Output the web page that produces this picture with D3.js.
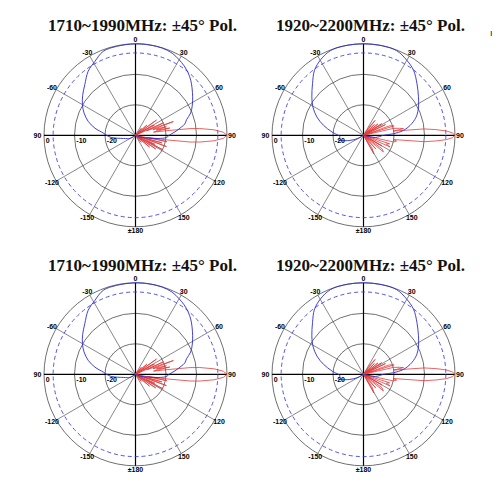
<!DOCTYPE html>
<html><head><meta charset="utf-8">
<script src="https://cdn.jsdelivr.net/npm/d3@7"></script>
<style>body{margin:0;background:#fff}</style>
</head><body>
<script>
const titles = ["1710~1990MHz: ±45° Pol.", "1920~2200MHz: ±45° Pol.", "1710~1990MHz: ±45° Pol.", "1920~2200MHz: ±45° Pol."];
const angleTicks = [0, 30, 60, 90, 120, 150, 180, -150, -120, -90, -60, -30];
const angleLabels = ["0", "30", "60", "90", "120", "150", "±180", "-150", "-120", "90", "-60", "-30"];
const ringValues = [0, -10, -20];
const ringLabels = ["0", "-10", "-20"];
const halfPowerLevel = -3;

// 1710~1990MHz horizontal pattern (blue), degrees / dB
const hAngA = [-180,-150,-120,-105,-95,-90,-86,-80,-73.5,-66.5,-60,-53,-45,-36.5,-29,-21,-12,0,9,17,24,30,35,40,45,50,56,62,68,73,77,80,85,90,94,98,102,110,130,150];
const hGainA = [-30,-30,-28,-26,-22,-20.5,-19.4,-16.5,-13.8,-11.6,-9.9,-8.3,-6.5,-3.9,-2.4,-0.5,-0.2,0,0,-0.1,-0.5,-1.4,-2.2,-3.2,-4.4,-5.8,-7.4,-8.9,-10.5,-12.5,-13.4,-14.8,-17,-19,-19.8,-22.5,-25.7,-28,-30,-30];
// 1710~1990MHz vertical pattern (red)
const vAngA = [0,30,40,44,48,51,54,57,60,62,64,66,68,70,72,74.5,76,78,80,81.5,83,84,86,88,90,92,94,96,97,98.5,100,101.5,104,106,108,110,112.5,115,116.5,118,121,124,127,130,134,140,146,180];
const vGainA = [-30,-30,-27,-30,-25,-30,-21.5,-30,-24,-23,-30,-20,-26,-16.8,-24,-19.5,-23,-18.5,-24,-20,-12,-8.8,-4.2,-1.2,0,-1.2,-4.2,-8.8,-12,-20,-26,-19.5,-30,-21,-27,-19.2,-30,-23,-26,-19.7,-30,-22,-30,-24,-30,-27,-30,-30];
// 1920~2200MHz horizontal pattern (blue)
const hAngB = [-180,-140,-120,-110,-100,-94,-84,-76,-68.6,-60.8,-53.4,-44.6,-37,-29.5,-21.4,-12.5,0,12.5,21.4,29.5,37.6,45.9,55,62.7,69.4,76.4,83,87,90,100,120,150];
const hGainB = [-30,-30,-28,-25,-21.5,-22.3,-19.6,-16.5,-13.6,-11,-8.9,-6.2,-3.3,-1.5,-0.2,0,0,0,-0.2,-1.5,-3.1,-5.6,-8.0,-9.7,-11.3,-13.7,-16.8,-20.2,-23.4,-26,-30,-30];
// 1920~2200MHz vertical pattern (red)
const vAngB = [0,30,35,38,41,45,48,52,55,57.5,60,64,67,70,73,75,77,79,80.5,82,84,85.5,87,88.5,90,91.5,93,94.5,96,98,100,102.6,105,108,111,113.7,116,120,123,126,130,133,138,141,146,151,154,160,180];
const vGainB = [-30,-30,-26,-23.8,-30,-25,-30,-24,-30,-22.9,-30,-22,-30,-21,-19.5,-30,-19.9,-18,-16.7,-20,-10,-6.2,-2.8,-0.8,0,-0.8,-2.8,-6.2,-10,-20,-19,-20,-30,-21,-22,-20.5,-30,-23,-30,-22.5,-21.5,-30,-24,-30,-25,-23,-30,-30,-30];

const W = 500, H = 500, R = 91.5;
const svg = d3.select("body").append("svg").attr("width", W).attr("height", H)
  .style("font-family", "Arial, 'Liberation Sans', sans-serif");

const rScale = d3.scaleLinear().domain([-30, 0]).range([0, R]).clamp(true);
const toRad = d => d * Math.PI / 180;
const zip = (a, g) => a.map((d, i) => ({ a: d, g: g[i] }));

const panels = [
  { title: titles[0], cx: 135.5, cy: 135.3, ty: 31, h: zip(hAngA, hGainA), v: zip(vAngA, vGainA) },
  { title: titles[1], cx: 363.5, cy: 135.3, ty: 31, h: zip(hAngB, hGainB), v: zip(vAngB, vGainB) },
  { title: titles[2], cx: 135.5, cy: 374.3, ty: 271, h: zip(hAngA, hGainA), v: zip(vAngA, vGainA) },
  { title: titles[3], cx: 363.5, cy: 374.3, ty: 271, h: zip(hAngB, hGainB), v: zip(vAngB, vGainB) }
];

const lineH = d3.lineRadial().angle(d => toRad(d.a)).radius(d => rScale(d.g)).curve(d3.curveCatmullRomClosed.alpha(0.5));
const lineV = d3.lineRadial().angle(d => toRad(d.a)).radius(d => rScale(d.g)).curve(d3.curveLinearClosed);

panels.forEach(p => {
  svg.append("text").attr("x", p.cx + 7).attr("y", p.ty)
    .attr("text-anchor", "middle")
    .style("font-family", "'Liberation Serif', 'Times New Roman', serif")
    .style("font-weight", "bold").style("font-size", "17px").attr("fill", "#111")
    .text(p.title);

  const g = svg.append("g").attr("transform", `translate(${p.cx},${p.cy})`);

  g.selectAll("circle.ring").data(ringValues).enter().append("circle")
    .attr("class", "ring").attr("r", d => rScale(d))
    .attr("fill", "none").attr("stroke", "#4a4a4a").attr("stroke-width", 0.8);

  g.selectAll("line.spoke").data(angleTicks).enter().append("line")
    .attr("class", "spoke")
    .attr("x1", 0).attr("y1", 0)
    .attr("x2", d => rScale(0) * Math.sin(toRad(d)))
    .attr("y2", d => -rScale(0) * Math.cos(toRad(d)))
    .attr("stroke", d => (d % 90 === 0) ? "#000" : "#555")
    .attr("stroke-width", d => (d % 90 === 0) ? 1.2 : 0.7);

  g.append("circle").attr("r", rScale(halfPowerLevel))
    .attr("fill", "none").attr("stroke", "#4040e8").attr("stroke-width", 0.9)
    .attr("stroke-dasharray", "4,3");

  g.append("path").datum(p.v).attr("d", lineV)
    .attr("fill", "none").attr("stroke", "#e43a3a").attr("stroke-width", 0.8);
  g.append("path").datum(p.h).attr("d", lineH)
    .attr("fill", "none").attr("stroke", "#2e2ec8").attr("stroke-width", 0.9);

  g.selectAll("text.ang").data(angleTicks).enter().append("text")
    .attr("class", "ang")
    .attr("x", d => (R + 5) * Math.sin(toRad(d)) + (d === -90 ? -1.5 : 0))
    .attr("y", d => -(R + 4) * Math.cos(toRad(d)))
    .attr("dy", "0.35em").attr("text-anchor", "middle")
    .style("font-size", "7px").style("font-weight", "bold").attr("fill", "#000")
    .text((d, i) => angleLabels[i]);

  g.selectAll("text.rl").data(ringValues).enter().append("text")
    .attr("class", "rl")
    .attr("x", d => -rScale(d) + 1.8)
    .attr("y", 8)
    .style("font-size", "7px").style("font-weight", "bold").attr("fill", "#000")
    .text((d, i) => ringLabels[i]);
});

svg.append("text").attr("x", 490).attr("y", 36).style("font-size", "9px").attr("fill", "#000").text("ı");
</script>
</body></html>
